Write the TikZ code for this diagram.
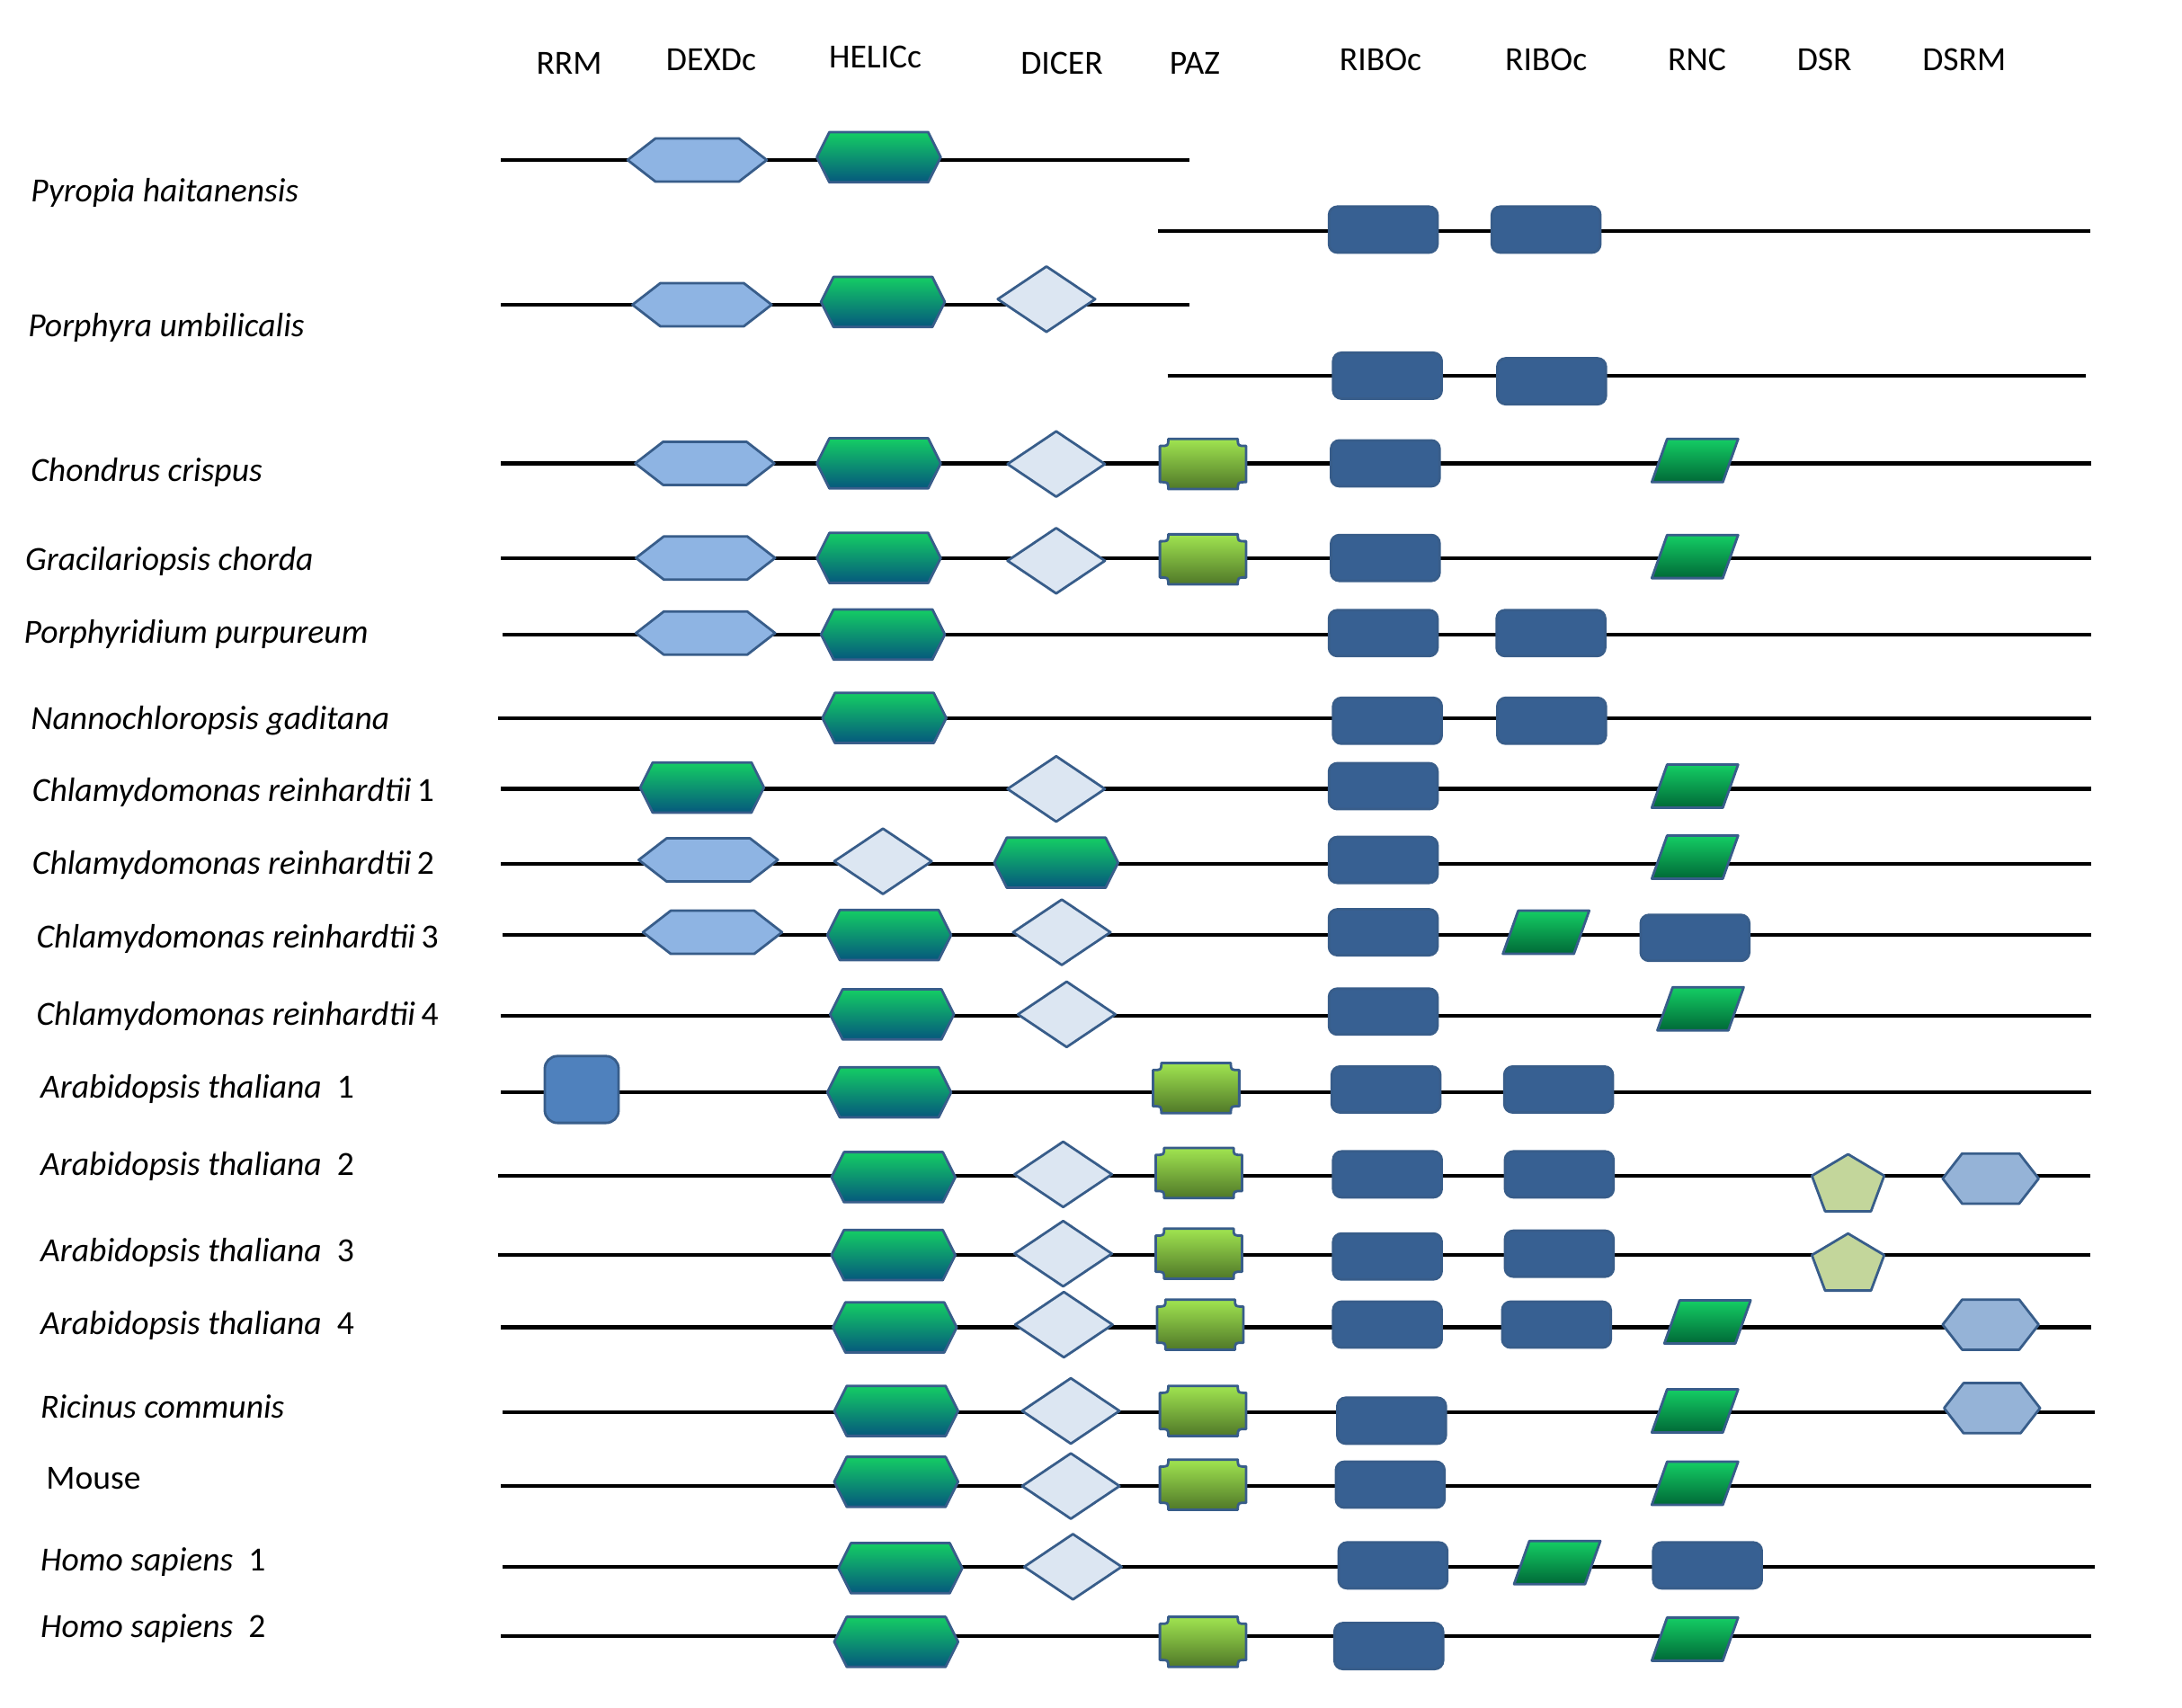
\documentclass[tikz,border=0pt]{standalone}
\usepackage{fontspec}
\setmainfont{Carlito}
\definecolor{bord}{RGB}{56,93,138}
\definecolor{dexdfill}{RGB}{142,180,227}
\definecolor{helictop}{RGB}{20,205,100}
\definecolor{helicbot}{RGB}{5,88,125}
\definecolor{diafill}{RGB}{220,230,242}
\definecolor{paztop}{RGB}{160,228,80}
\definecolor{pazbot}{RGB}{80,120,40}
\definecolor{ribofill}{RGB}{55,96,146}
\definecolor{rnctop}{RGB}{20,205,100}
\definecolor{rncbot}{RGB}{0,105,55}
\definecolor{rrmfill}{RGB}{79,129,189}
\definecolor{dsrfill}{RGB}{195,214,155}
\definecolor{dsrmfill}{RGB}{149,179,215}
\tikzset{
  backbone/.style={line width=2.8pt,black},
  dom/.style={draw=bord,line width=1.8pt,line join=round},
  dexdstyle/.style={dom,fill=dexdfill},
  helicstyle/.style={dom,top color=helictop,bottom color=helicbot},
  diastyle/.style={dom,fill=diafill},
  pazstyle/.style={dom,top color=paztop,bottom color=pazbot},
  ribostyle/.style={dom,fill=ribofill,rounded corners=6pt},
  rncstyle/.style={dom,top color=rnctop,bottom color=rncbot},
  rrmstyle/.style={dom,fill=rrmfill,rounded corners=9pt},
  dsrstyle/.style={dom,fill=dsrfill},
  dsrmstyle/.style={dom,fill=dsrmfill},
  head/.style={font=\fontsize{24.3}{28}\selectfont,anchor=base,inner sep=0pt},
  species/.style={font=\fontsize{24.3}{28}\selectfont\itshape,anchor=base west,inner sep=0pt},
}
\newcommand\dexd[3]{\coordinate (#1) at (#2,#3);
  \path[dexdstyle,shift={(#1)}] (-50,0) -- (-30,-15.5) -- (30,-15.5) -- (50,0) -- (30,15.5) -- (-30,15.5) -- cycle;}
\newcommand\helic[3]{\coordinate (#1) at (#2,#3);
  \path[helicstyle,shift={(#1)}] (-44.5,0) -- (-35.5,-18) -- (35.5,-18) -- (44.5,0) -- (35.5,18) -- (-35.5,18) -- cycle;}
\newcommand\dicer[3]{\coordinate (#1) at (#2,#3);
  \path[diastyle,shift={(#1)}] (-35,0) -- (0,-23.5) -- (35,0) -- (0,23.5) -- cycle;}
\newcommand\paz[3]{\coordinate (#1) at (#2,#3);
  \path[pazstyle,shift={(#1)}] (-25,-18) -- (25,-18) .. controls (25,-13) .. (31,-13) -- (31,13) .. controls (25,13) .. (25,18) -- (-25,18) .. controls (-25,13) .. (-31,13) -- (-31,-13) .. controls (-25,-13) .. (-25,-18) -- cycle;}
\newcommand\ribo[3]{\coordinate (#1) at (#2,#3);
  \path[ribostyle,shift={(#1)}] (-39,-16.5) rectangle (39,16.5);}
\newcommand\rnc[3]{\coordinate (#1) at (#2,#3);
  \path[rncstyle,shift={(#1)}] (-31,15.5) -- (20,15.5) -- (31,-15.5) -- (-20,-15.5) -- cycle;}
\newcommand\rrm[3]{\coordinate (#1) at (#2,#3);
  \path[rrmstyle,shift={(#1)}] (-26.5,-24) rectangle (26.5,24);}
\newcommand\dsr[3]{\coordinate (#1) at (#2,#3);
  \path[dsrstyle,shift={(#1)}] (0,-15.5) -- (26,0) -- (16.5,25.5) -- (-16.5,25.5) -- (-26,0) -- cycle;}
\newcommand\dsrm[3]{\coordinate (#1) at (#2,#3);
  \path[dsrmstyle,shift={(#1)}] (-34.5,0) -- (-20.5,-18) -- (20.5,-18) -- (34.5,0) -- (20.5,18) -- (-20.5,18) -- cycle;}
\newcommand\bb[4]{\coordinate (#1s) at (#2,#4); \coordinate (#1e) at (#3,#4); \draw[backbone] (#1s) -- (#1e);}
\begin{document}
\begin{tikzpicture}[x=1pt,y=-1pt]
\path[use as bounding box,fill=white] (0,0) rectangle (1568,1227);
% headers
\node[head] (hRRM) at (409,53) {RRM};
\node[head] (hDEXDc) at (511,51) {DEXDc};
\node[head] (hHELICc) at (629,49) {HELICc};
\node[head] (hDICER) at (763,53) {DICER};
\node[head] (hPAZ) at (858.5,53) {PAZ};
\node[head] (hRIBOc1) at (992,51) {RIBOc};
\node[head] (hRIBOc2) at (1111,51) {RIBOc};
\node[head] (hRNC) at (1219.5,51) {RNC};
\node[head] (hDSR) at (1311,51) {DSR};
\node[head] (hDSRM) at (1411.5,51) {DSRM};
% labels
\node[species] (l1) at (22,145) {Pyropia haitanensis};
\node[species] (l2) at (20,242) {Porphyra umbilicalis};
\node[species] (l3) at (22,346) {Chondrus crispus};
\node[species] (l4) at (18,410) {Gracilariopsis chorda};
\node[species] (l5) at (17,462) {Porphyridium purpureum};
\node[species] (l6) at (22,524) {Nannochloropsis gaditana};
\node[species] (l7) at (23,576) {Chlamydomonas reinhardtii\upshape\,1};
\node[species] (l8) at (23,628) {Chlamydomonas reinhardtii\upshape\,2};
\node[species] (l9) at (26,681) {Chlamydomonas reinhardtii\upshape\,3};
\node[species] (l10) at (26,737) {Chlamydomonas reinhardtii\upshape\,4};
\node[species] (l11) at (29,789) {Arabidopsis thaliana\upshape\ \ 1};
\node[species] (l12) at (29,845) {Arabidopsis thaliana\upshape\ \ 2};
\node[species] (l13) at (29,907) {Arabidopsis thaliana\upshape\ \ 3};
\node[species] (l14) at (29,959) {Arabidopsis thaliana\upshape\ \ 4};
\node[species] (l15) at (29,1019) {Ricinus communis};
\node[species,font=\fontsize{24.3}{28}\selectfont] (l16) at (33,1070) {Mouse};
\node[species] (l17) at (29,1129) {Homo sapiens\upshape\ \ 1};
\node[species] (l18) at (29,1177) {Homo sapiens\upshape\ \ 2};
% row 1
\bb{ra}{360}{855}{115}
\dexd{a1}{501}{115} \helic{a2}{631.5}{113}
\bb{rb}{832}{1502}{166}
\ribo{b1}{994}{165} \ribo{b2}{1111}{165}
% row 2
\bb{rc}{360}{855}{219}
\dexd{c1}{504.5}{219} \helic{c2}{634.5}{217} \dicer{c3}{752}{215}
\bb{rd}{839}{1499}{270}
\ribo{d1}{997}{270} \ribo{d2}{1115}{274}
% row 3
\bb{re}{360}{1503}{333}
\dexd{e1}{506.5}{333} \helic{e2}{631.5}{333} \dicer{e3}{759}{333.5} \paz{e4}{864.5}{333.5} \ribo{e5}{995.5}{333} \rnc{e6}{1218}{331}
% row 4
\bb{rf}{360}{1503}{401}
\dexd{f1}{507}{401} \helic{f2}{631.5}{401} \dicer{f3}{759}{403} \paz{f4}{864.5}{402} \ribo{f5}{995.5}{401} \rnc{f6}{1218}{400}
% row 5
\bb{rg}{361}{1503}{456}
\dexd{g1}{507}{455} \helic{g2}{634.5}{456} \ribo{g3}{994}{455} \ribo{g4}{1114.5}{455}
% row 6
\bb{rh}{358}{1503}{516}
\helic{h1}{635.5}{516} \ribo{h2}{997}{518} \ribo{h3}{1115}{518}
% row 7
\bb{ri}{360}{1503}{567}
\helic{i1}{504.5}{566} \dicer{i2}{759}{567} \ribo{i3}{994}{565} \rnc{i4}{1218}{565}
% row 8
\bb{rj}{360}{1503}{621}
\dexd{j1}{509}{618} \dicer{j2}{634.5}{619} \helic{j3}{759}{620} \ribo{j4}{994}{618} \rnc{j5}{1218}{616}
% row 9
\bb{rk}{361}{1503}{672}
\dexd{k1}{512}{670} \helic{k2}{639}{672} \dicer{k3}{763}{670} \ribo{k4}{994}{670} \rnc{k5}{1111}{670} \ribo{k6}{1218}{674}
% row 10
\bb{rl}{360}{1503}{730}
\helic{l1s}{641}{729} \dicer{l2s}{766.5}{729} \ribo{l3s}{994}{727} \rnc{l4s}{1222}{725}
% row 11
\bb{rm}{360}{1503}{785}
\rrm{m1}{418}{783} \helic{m2}{639}{785} \paz{m3}{859.5}{782} \ribo{m4}{996}{783} \ribo{m5}{1120}{783}
% row 12
\bb{rn}{358}{1502}{845}
\helic{n1}{642}{846} \dicer{n2}{764}{844} \paz{n3}{861.5}{843} \ribo{n4}{997}{844} \ribo{n5}{1120.5}{844} \dsr{n6}{1328}{845} \dsrm{n7}{1430.5}{847}
% row 13
\bb{ro}{358}{1502}{902}
\helic{o1}{642}{902} \dicer{o2}{764}{901} \paz{o3}{861.5}{901} \ribo{o4}{997}{903} \ribo{o5}{1120.5}{901} \dsr{o6}{1328}{902}
% row 14
\bb{rp}{360}{1503}{954}
\helic{p1}{643}{954} \dicer{p2}{764.5}{952} \paz{p3}{862.5}{952} \ribo{p4}{997}{952} \ribo{p5}{1118.5}{952} \rnc{p6}{1227}{950} \dsrm{p7}{1430.5}{952}
% row 15
\bb{rq}{361}{1505}{1015}
\helic{q1}{644}{1014} \dicer{q2}{769.5}{1014} \paz{q3}{864.5}{1014} \ribo{q4}{1000}{1021} \rnc{q5}{1218}{1014} \dsrm{q6}{1431.5}{1012}
% row 16
\bb{rr}{360}{1503}{1068}
\helic{r1}{644}{1065} \dicer{r2}{769.5}{1068} \paz{r3}{864.5}{1067} \ribo{r4}{999}{1067} \rnc{r5}{1218}{1066}
% row 17
\bb{rs}{361}{1505}{1126}
\helic{s1}{647}{1127} \dicer{s2}{771}{1126} \ribo{s3}{1001}{1125} \rnc{s4}{1119}{1123} \ribo{s5}{1227}{1125}
% row 18
\bb{rt}{360}{1503}{1176}
\helic{t1}{644}{1180} \paz{t2}{864.5}{1180} \ribo{t3}{998}{1183} \rnc{t4}{1218}{1178}
\end{tikzpicture}
\end{document}
